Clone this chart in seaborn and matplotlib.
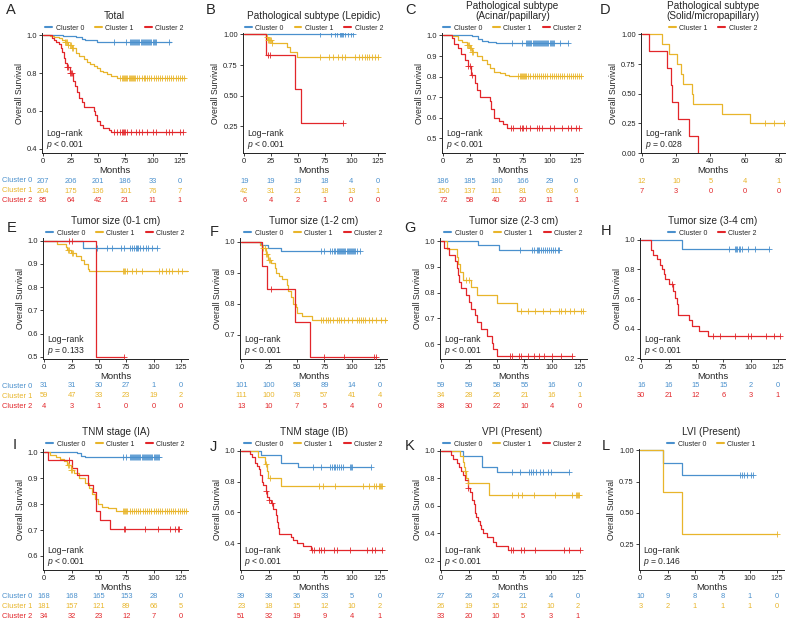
import numpy as np
import matplotlib
matplotlib.use("Agg")
import matplotlib.pyplot as plt
import seaborn as sns
from matplotlib.ticker import FormatStrFormatter

sns.set_style("ticks")
plt.rcParams["font.family"] = ["Liberation Sans", "DejaVu Sans"]
plt.rcParams["mathtext.fontset"] = "custom"
plt.rcParams["mathtext.it"] = "Liberation Sans:italic"
plt.rcParams["mathtext.rm"] = "Liberation Sans"

COLORS = {0: "#4A90CD", 1: "#E8B52B", 2: "#E2262A"}
CLUSTER_NAMES = ["Cluster 0", "Cluster 1", "Cluster 2"]
TICKS_125 = [0, 25, 50, 75, 100, 125]
TICKS_80 = [0, 20, 40, 60, 80]

# ---- A: Total ----
A_t0 = [0, 18, 30, 35, 38, 49, 117]
A_s0 = [1.0, 0.995, 0.99, 0.98, 0.975, 0.965, 0.965]
A_c0 = [65, 76, 79, 80, 81, 82, 83, 84, 85, 86, 87, 88, 89, 90, 91, 92, 93, 94, 95, 96, 97, 98, 99, 100, 101, 102, 103, 115]
A_t1 = [0, 6, 10, 14, 17, 20, 23, 26, 30, 33, 37, 40, 43, 46, 49, 52, 55, 58, 62, 67, 130]
A_s1 = [1.0, 0.995, 0.99, 0.985, 0.975, 0.965, 0.95, 0.935, 0.905, 0.89, 0.875, 0.86, 0.85, 0.84, 0.825, 0.812, 0.805, 0.796, 0.785, 0.772, 0.772]
A_c1 = [20, 21, 22, 23, 24, 25, 26, 27, 70, 72, 73, 74, 75, 76, 77, 78, 79, 80, 81, 82, 83, 84, 86, 88, 90, 92, 93, 95, 97, 99, 101, 103, 105, 107, 109, 111, 113, 115, 117, 119, 121, 123, 125, 127, 129]
A_t2 = [0, 8, 10, 12, 14, 16, 17, 19, 20, 22, 24, 27, 29, 31, 33, 35, 37, 46, 47, 49, 52, 55, 60, 62, 128]
A_s2 = [1.0, 0.988, 0.976, 0.965, 0.953, 0.93, 0.91, 0.88, 0.855, 0.83, 0.8, 0.76, 0.73, 0.7, 0.67, 0.645, 0.62, 0.6, 0.578, 0.545, 0.525, 0.51, 0.5, 0.49, 0.49]
A_c2 = [22, 23, 24, 25, 26, 65, 67, 70, 72, 73, 74, 75, 77, 80, 85, 88, 90, 95, 100, 103, 112, 115, 118, 125, 128]
A_risk = [[207, 206, 201, 186, 33, 0], [204, 175, 136, 101, 76, 7], [85, 64, 42, 21, 11, 1]]

# ---- B: Lepidic ----
B_t0 = [0, 102]
B_s0 = [1.0, 1.0]
B_c0 = [71, 81, 85, 87, 89, 90, 91, 92, 94, 97, 100, 102]
B_t1 = [0, 20, 22, 26, 40, 43, 49, 125]
B_s1 = [1.0, 0.976, 0.953, 0.93, 0.9, 0.86, 0.813, 0.813]
B_c1 = [21, 22, 23, 24, 25, 26, 71, 79, 83, 88, 91, 94, 103, 107, 110, 113, 115, 117, 119, 122, 125]
B_t2 = [0, 20, 47, 53, 92]
B_s2 = [1.0, 0.833, 0.556, 0.278, 0.278]
B_c2 = [22, 24, 92]
B_risk = [[19, 19, 19, 18, 4, 0], [42, 31, 21, 18, 13, 1], [6, 4, 2, 1, 0, 0]]

# ---- C: Acinar/papillary ----
C_t0 = [0, 27, 33, 36, 42, 50, 117]
C_s0 = [1.0, 0.995, 0.985, 0.975, 0.97, 0.962, 0.962]
C_c0 = [65, 74, 78, 79, 80, 81, 82, 83, 84, 85, 86, 87, 88, 89, 90, 91, 92, 93, 94, 95, 96, 97, 98, 99, 100, 101, 102, 103, 104, 110, 117]
C_t1 = [0, 8, 14, 18, 22, 25, 27, 32, 36, 41, 44, 48, 53, 58, 62, 130]
C_s1 = [1.0, 0.995, 0.98, 0.97, 0.955, 0.94, 0.92, 0.9, 0.88, 0.86, 0.84, 0.82, 0.815, 0.81, 0.805, 0.805]
C_c1 = [22, 23, 24, 25, 26, 27, 28, 70, 72, 73, 74, 75, 76, 77, 78, 80, 82, 84, 86, 88, 90, 92, 94, 96, 98, 100, 102, 104, 106, 108, 110, 112, 114, 116, 118, 120, 122, 124, 126, 128, 130]
C_t2 = [0, 8, 10, 14, 17, 20, 23, 26, 30, 32, 35, 44, 45, 48, 52, 56, 60, 128]
C_s2 = [1.0, 0.99, 0.96, 0.94, 0.91, 0.88, 0.85, 0.81, 0.77, 0.735, 0.7, 0.68, 0.64, 0.6, 0.585, 0.57, 0.551, 0.551]
C_c2 = [23, 25, 27, 64, 66, 72, 74, 75, 78, 82, 88, 90, 93, 100, 104, 112, 117, 120, 125, 128]
C_risk = [[186, 185, 180, 166, 29, 0], [150, 137, 111, 81, 63, 6], [72, 58, 40, 20, 11, 1]]

# ---- D: Solid/micropapillary ----
D_t1 = [0, 11.5, 16, 20.5, 23, 24, 29, 30, 47, 63, 83]
D_s1 = [1.0, 0.917, 0.833, 0.75, 0.667, 0.583, 0.5, 0.417, 0.333, 0.25, 0.25]
D_c1 = [72, 77, 83]
D_t2 = [0, 4, 14.5, 17, 17.5, 21, 27.5, 33]
D_s2 = [1.0, 0.857, 0.714, 0.571, 0.429, 0.286, 0.143, 0.0]
D_c2 = []
D_risk = [[12, 10, 5, 4, 1], [7, 3, 0, 0, 0]]

# ---- E: Tumor size 0-1 ----
E_t0 = [0, 35, 103]
E_s0 = [1.0, 0.968, 0.968]
E_c0 = [48, 57, 62, 70, 73, 78, 80, 82, 84, 85, 86, 88, 90, 93, 95, 99, 103]
E_t1 = [0, 12, 20, 21, 24, 29, 34, 36, 40, 41, 133]
E_s1 = [1.0, 0.985, 0.975, 0.96, 0.948, 0.935, 0.915, 0.9, 0.88, 0.868, 0.868]
E_c1 = [22, 23, 25, 26, 72, 73, 74, 76, 80, 84, 89, 105, 108, 111, 114, 117, 122, 126, 133]
E_t2 = [0, 47, 73]
E_s2 = [1.0, 0.5, 0.5]
E_c2 = [23, 25, 73]
E_risk = [[31, 31, 30, 27, 1, 0], [59, 47, 33, 23, 19, 2], [4, 3, 1, 0, 0, 0]]

# ---- F: Tumor size 1-2 ----
F_t0 = [0, 18, 24, 36, 107]
F_s0 = [1.0, 0.99, 0.98, 0.97, 0.97]
F_c0 = [72, 75, 80, 82, 84, 85, 86, 87, 88, 89, 90, 91, 92, 93, 94, 95, 96, 97, 98, 99, 100, 101, 102, 103, 104, 107]
F_t1 = [0, 17, 19, 22, 24, 27, 30, 31, 34, 37, 41, 42, 45, 47, 49, 50, 55, 64, 133]
F_s1 = [1.0, 0.99, 0.98, 0.96, 0.94, 0.93, 0.915, 0.9, 0.89, 0.88, 0.86, 0.84, 0.82, 0.8, 0.79, 0.77, 0.76, 0.748, 0.748]
F_c1 = [20, 21, 22, 23, 25, 26, 72, 74, 76, 78, 80, 83, 86, 88, 90, 93, 96, 100, 104, 106, 108, 110, 112, 115, 118, 122, 126, 130, 133]
F_t2 = [0, 18.5, 23.5, 48, 62, 122]
F_s2 = [1.0, 0.923, 0.846, 0.74, 0.628, 0.628]
F_c2 = [27, 75, 93, 120, 122]
F_risk = [[101, 100, 98, 89, 14, 0], [111, 100, 78, 57, 41, 4], [13, 10, 7, 5, 4, 0]]

# ---- G: Tumor size 2-3 ----
G_t0 = [0, 33, 52, 106]
G_s0 = [1.0, 0.983, 0.966, 0.966]
G_c0 = [71, 82, 84, 86, 87, 88, 90, 92, 94, 95, 97, 99, 101, 103, 105, 106]
G_t1 = [0, 5, 14, 15, 17, 20, 27, 32, 50, 68, 128]
G_s1 = [1.0, 0.97, 0.94, 0.91, 0.88, 0.85, 0.82, 0.79, 0.76, 0.73, 0.73]
G_c1 = [22, 25, 72, 78, 85, 92, 98, 106, 108, 112, 116, 120, 126, 128]
G_t2 = [0, 2, 7, 12, 14, 15, 16, 18, 22, 25, 27, 30, 32, 36, 41, 46, 47, 50, 118]
G_s2 = [1.0, 0.974, 0.947, 0.921, 0.895, 0.868, 0.842, 0.816, 0.789, 0.763, 0.737, 0.711, 0.684, 0.658, 0.632, 0.605, 0.579, 0.553, 0.553]
G_c2 = [62, 64, 70, 72, 78, 84, 88, 93, 100, 108, 118]
G_risk = [[59, 59, 58, 55, 16, 0], [34, 28, 25, 21, 16, 1], [38, 30, 22, 10, 4, 0]]

# ---- H: Tumor size 3-4 ----
H_t0 = [0, 37, 117]
H_s0 = [1.0, 0.9375, 0.9375]
H_c0 = [80, 86, 87, 88, 89, 90, 92, 98, 104, 117]
H_t2 = [0, 9, 11, 14, 17, 19, 21, 22, 25, 29, 31, 33, 33.5, 44, 46, 53, 61, 127]
H_s2 = [1.0, 0.933, 0.9, 0.867, 0.833, 0.8, 0.767, 0.733, 0.7, 0.655, 0.61, 0.565, 0.49, 0.455, 0.42, 0.385, 0.35, 0.35]
H_c2 = [28, 66, 72, 86, 98, 100, 114, 121, 127]
H_risk = [[16, 16, 15, 15, 2, 0], [30, 21, 12, 6, 3, 1]]

# ---- I: TNM IA ----
I_t0 = [0, 30, 34, 37, 105]
I_s0 = [1.0, 0.995, 0.985, 0.98, 0.98]
I_c0 = [72, 75, 78, 79, 80, 81, 82, 83, 84, 85, 86, 87, 88, 89, 90, 91, 92, 93, 94, 95, 96, 97, 98, 99, 100, 101, 102, 103, 104, 105]
I_t1 = [0, 5, 11, 14, 18, 21, 24, 27, 32, 37, 41, 44, 46, 49, 53, 58, 66, 132]
I_s1 = [1.0, 0.99, 0.98, 0.975, 0.965, 0.95, 0.93, 0.92, 0.9, 0.88, 0.86, 0.84, 0.82, 0.8, 0.79, 0.785, 0.772, 0.772]
I_c1 = [22, 23, 24, 25, 72, 73, 74, 75, 76, 78, 80, 82, 84, 86, 88, 90, 92, 94, 96, 98, 100, 102, 104, 106, 108, 110, 112, 114, 116, 118, 120, 122, 124, 126, 128, 130, 132]
I_t2 = [0, 3, 25, 30, 40, 45, 47, 51, 60, 123]
I_s2 = [1.0, 0.97, 0.94, 0.91, 0.875, 0.845, 0.775, 0.74, 0.705, 0.705]
I_c2 = [23, 73, 74, 92, 104, 115, 120, 122, 123]
I_risk = [[168, 168, 165, 153, 28, 0], [181, 157, 121, 89, 66, 5], [34, 32, 23, 12, 7, 0]]

# ---- J: TNM IB ----
J_t0 = [0, 18, 36, 51, 117]
J_s0 = [1.0, 0.974, 0.923, 0.895, 0.895]
J_c0 = [65, 72, 80, 82, 84, 85, 86, 88, 90, 92, 98, 99, 100, 117]
J_t1 = [0, 15, 21, 23, 24, 36, 127]
J_s1 = [1.0, 0.957, 0.913, 0.87, 0.826, 0.773, 0.773]
J_c1 = [22, 26, 70, 74, 85, 110, 115, 120, 122, 124, 125, 126, 127]
J_t2 = [0, 8, 10, 12, 14, 16, 17, 19, 20, 22, 23, 25, 27, 29, 31, 32, 33, 34, 45, 47, 50, 56, 63, 127]
J_s2 = [1.0, 0.98, 0.96, 0.92, 0.9, 0.88, 0.84, 0.8, 0.78, 0.74, 0.7, 0.68, 0.66, 0.62, 0.58, 0.54, 0.5, 0.46, 0.44, 0.42, 0.4, 0.38, 0.355, 0.355]
J_c2 = [22, 25, 28, 64, 66, 70, 72, 75, 84, 86, 98, 113, 118, 121, 127]
J_risk = [[39, 38, 36, 33, 5, 0], [23, 18, 15, 12, 10, 2], [51, 32, 19, 9, 4, 1]]

# ---- K: VPI ----
K_t0 = [0, 20, 37, 51, 117]
K_s0 = [1.0, 0.963, 0.885, 0.846, 0.846]
K_c0 = [65, 72, 80, 82, 84, 87, 90, 93, 98, 100, 117]
K_t1 = [0, 17, 20, 21, 22, 23, 24, 44, 126]
K_s1 = [1.0, 0.96, 0.92, 0.88, 0.85, 0.8, 0.765, 0.675, 0.675]
K_c1 = [22, 24, 65, 70, 74, 85, 104, 120, 123, 124, 125, 126]
K_t2 = [0, 9, 11, 14, 16, 18, 20, 22, 24, 26, 28, 30, 31, 32, 34, 35, 36, 38, 42, 47, 50, 61, 127]
K_s2 = [1.0, 0.97, 0.94, 0.91, 0.88, 0.85, 0.82, 0.79, 0.73, 0.7, 0.64, 0.61, 0.55, 0.52, 0.49, 0.46, 0.43, 0.4, 0.37, 0.34, 0.31, 0.28, 0.28]
K_c2 = [24, 64, 66, 73, 76, 86, 112, 117, 127]
K_risk = [[27, 26, 24, 21, 4, 0], [26, 19, 15, 12, 10, 2], [33, 20, 10, 5, 3, 1]]

# ---- L: LVI ----
L_t0 = [0, 20.7, 37.8, 103]
L_s0 = [1.0, 0.9, 0.8, 0.8]
L_c0 = [91, 93, 95, 98, 101, 103]
L_t1 = [0, 21, 38, 125]
L_s1 = [1.0, 0.667, 0.333, 0.333]
L_c1 = [125]
L_risk = [[10, 9, 8, 8, 1, 0], [3, 2, 1, 1, 1, 0]]

# panel: letter, title, curves, risk, p-text, yticks, ylo, fmt, xticks, xmax, col, row
panels = [
    ("A", "Total", {0: (A_t0, A_s0, A_c0), 1: (A_t1, A_s1, A_c1), 2: (A_t2, A_s2, A_c2)}, A_risk,
     "< 0.001", [0.4, 0.6, 0.8, 1.0], 0.377, "%.1f", TICKS_125, 131.5, 0, 0),
    ("B", "Pathological subtype (Lepidic)", {0: (B_t0, B_s0, B_c0), 1: (B_t1, B_s1, B_c1), 2: (B_t2, B_s2, B_c2)}, B_risk,
     "< 0.001", [0.25, 0.5, 0.75, 1.0], 0.03, "%.2f", TICKS_125, 131.5, 1, 0),
    ("C", "Pathological subtype\n(Acinar/papillary)", {0: (C_t0, C_s0, C_c0), 1: (C_t1, C_s1, C_c1), 2: (C_t2, C_s2, C_c2)}, C_risk,
     "< 0.001", [0.5, 0.6, 0.7, 0.8, 0.9, 1.0], 0.428, "%.1f", TICKS_125, 131.5, 2, 0),
    ("D", "Pathological subtype\n(Solid/micropapillary)", {1: (D_t1, D_s1, D_c1), 2: (D_t2, D_s2, D_c2)}, D_risk,
     "= 0.028", [0.0, 0.25, 0.5, 0.75, 1.0], 0.0, "%.2f", TICKS_80, 83.5, 3, 0),
    ("E", "Tumor size (0-1 cm)", {0: (E_t0, E_s0, E_c0), 1: (E_t1, E_s1, E_c1), 2: (E_t2, E_s2, E_c2)}, E_risk,
     "= 0.133", [0.5, 0.6, 0.7, 0.8, 0.9, 1.0], 0.49, "%.1f", TICKS_125, 131.5, 0, 1),
    ("F", "Tumor size (1-2 cm)", {0: (F_t0, F_s0, F_c0), 1: (F_t1, F_s1, F_c1), 2: (F_t2, F_s2, F_c2)}, F_risk,
     "< 0.001", [0.7, 0.8, 0.9, 1.0], 0.621, "%.1f", TICKS_125, 131.5, 1, 1),
    ("G", "Tumor size (2-3 cm)", {0: (G_t0, G_s0, G_c0), 1: (G_t1, G_s1, G_c1), 2: (G_t2, G_s2, G_c2)}, G_risk,
     "< 0.001", [0.6, 0.7, 0.8, 0.9, 1.0], 0.542, "%.1f", TICKS_125, 131.5, 2, 1),
    ("H", "Tumor size (3-4 cm)", {0: (H_t0, H_s0, H_c0), 2: (H_t2, H_s2, H_c2)}, H_risk,
     "< 0.001", [0.2, 0.4, 0.6, 0.8, 1.0], 0.195, "%.1f", TICKS_125, 131.5, 3, 1),
    ("I", "TNM stage (IA)", {0: (I_t0, I_s0, I_c0), 1: (I_t1, I_s1, I_c1), 2: (I_t2, I_s2, I_c2)}, I_risk,
     "< 0.001", [0.6, 0.7, 0.8, 0.9, 1.0], 0.546, "%.1f", TICKS_125, 131.5, 0, 2),
    ("J", "TNM stage (IB)", {0: (J_t0, J_s0, J_c0), 1: (J_t1, J_s1, J_c1), 2: (J_t2, J_s2, J_c2)}, J_risk,
     "< 0.001", [0.4, 0.6, 0.8, 1.0], 0.225, "%.1f", TICKS_125, 131.5, 1, 2),
    ("K", "VPI (Present)", {0: (K_t0, K_s0, K_c0), 1: (K_t1, K_s1, K_c1), 2: (K_t2, K_s2, K_c2)}, K_risk,
     "< 0.001", [0.2, 0.4, 0.6, 0.8, 1.0], 0.134, "%.1f", TICKS_125, 131.5, 2, 2),
    ("L", "LVI (Present)", {0: (L_t0, L_s0, L_c0), 1: (L_t1, L_s1, L_c1)}, L_risk,
     "= 0.146", [0.25, 0.5, 0.75, 1.0], 0.042, "%.2f", TICKS_125, 131.5, 3, 2),
]

# layout in pixels
W, H = 790, 622
COL_L = [[42, 243, 442, 641], [43, 240, 440, 640], [43, 240, 440, 639]]
COL_R = [[187, 385, 583, 785], [188, 387, 587, 785], [188, 387, 585, 784]]
ROW_TOP = [33, 238, 449]
ROW_BOT = [153, 359, 570]
RISK_Y = [[181, 191, 201], [386, 396, 406], [597, 607, 617]]
LETTER_XY = [[(11, 10), (211, 10), (410, 10), (605, 10)],
             [(12, 228), (214, 232), (410, 228), (606, 231)],
             [(15, 445), (213, 447), (410, 446), (606, 446)]]

fig = plt.figure(figsize=(7.9, 6.22), dpi=100)


def rect(l, r, top, bot):
    return [l / W, 1 - bot / H, (r - l) / W, (bot - top) / H]


def surv_at(t, s, c):
    idx = np.searchsorted(np.asarray(t), np.asarray(c), side="right") - 1
    return np.asarray(s)[idx]


for (letter, title, curves, risk, ptxt, yticks, ylo, fmt, xticks, xmax, col, row) in panels:
    l, r = COL_L[row][col], COL_R[row][col]
    top, bot = ROW_TOP[row], ROW_BOT[row]
    ax = fig.add_axes(rect(l, r, top, bot))

    for k, (t, s, c) in curves.items():
        sns.lineplot(x=t, y=s, drawstyle="steps-post", color=COLORS[k], lw=0.9,
                     estimator=None, sort=False, label=CLUSTER_NAMES[k], ax=ax)
        if len(c):
            sns.scatterplot(x=c, y=surv_at(t, s, c), marker="+", s=16, color=COLORS[k],
                            linewidth=0.6, legend=False, ax=ax, zorder=3)

    ax.set_xlim(-1.2 if xmax > 100 else -0.5, xmax)
    ax.set_ylim(ylo, 1.012)
    ax.set_xticks(xticks)
    ax.set_yticks(yticks)
    ax.yaxis.set_major_formatter(FormatStrFormatter(fmt))
    ax.tick_params(labelsize=5.4, length=2.2, width=0.6, pad=1.5, colors="#222222")
    for sp in ["left", "bottom"]:
        ax.spines[sp].set_linewidth(0.7)
        ax.spines[sp].set_color("#222222")
    sns.despine(ax=ax)
    ax.set_xlabel("Months", fontsize=6.8, labelpad=0.3)
    ax.set_ylabel("Overall Survival", fontsize=6.2, labelpad=2)
    ax.set_title(title, fontsize=7.2, pad=10, linespacing=1.0)
    leg = ax.legend(loc="lower center", bbox_to_anchor=(0.5, 1.0), ncol=3, frameon=False,
                    fontsize=5, handlelength=1.0, handletextpad=0.5, columnspacing=1.6,
                    borderaxespad=0.1, borderpad=0.1)
    for ln in leg.get_lines():
        ln.set_linewidth(1.5)
    ax.text(0.03, 0.02, "Log\u2212rank\n$p$ " + ptxt, transform=ax.transAxes,
            fontsize=6.2, ha="left", va="bottom", linespacing=1.1)

    # risk table
    ry = RISK_Y[row]
    rax = fig.add_axes(rect(l, r, ry[0] - 5, ry[2] + 5))
    rax.set_xlim(ax.get_xlim())
    rax.set_ylim(2.5, -0.5)
    rax.axis("off")
    for i, k in enumerate(curves.keys()):
        for x, n in zip(xticks, risk[i]):
            rax.text(x, i, str(n), ha="center", va="center", fontsize=5.4, color=COLORS[k])
        if col == 0:
            fig.text(2 / W, 1 - ry[i] / H, CLUSTER_NAMES[k], ha="left", va="center",
                     fontsize=5.4, color=COLORS[k])

    lx, ly = LETTER_XY[row][col]
    fig.text(lx / W, 1 - ly / H, letter, fontsize=10.5, ha="center", va="center")

fig.savefig("out.png", dpi=100)
